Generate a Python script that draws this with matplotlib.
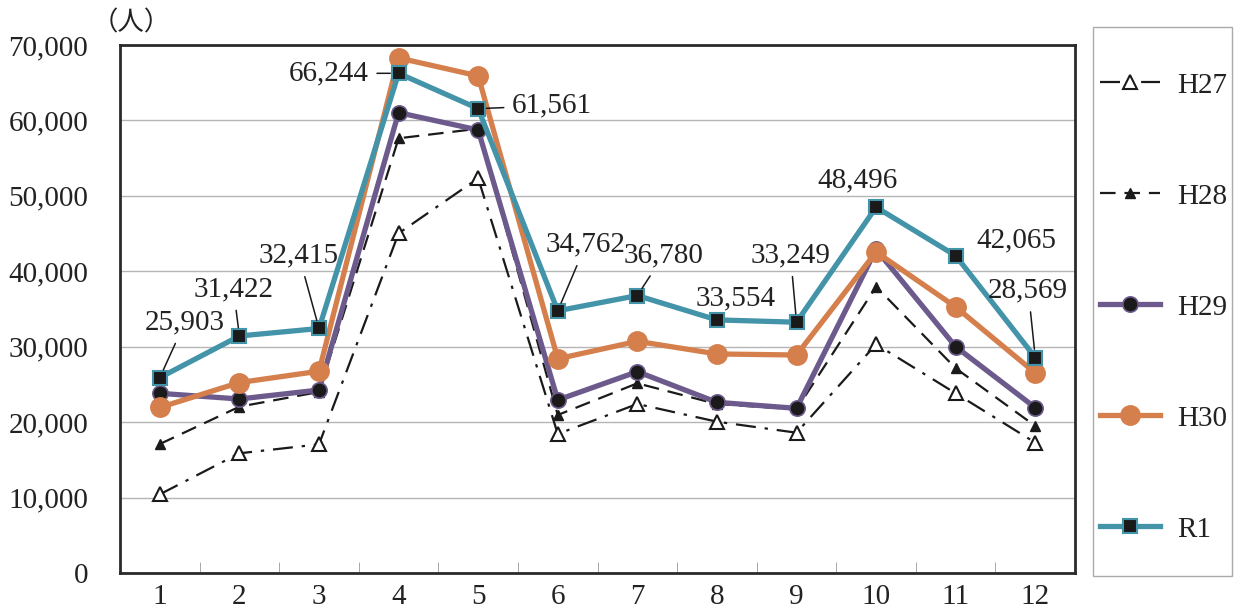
import matplotlib
matplotlib.use('Agg')
import matplotlib.pyplot as plt
from matplotlib.patches import Rectangle
import numpy as np

plt.rcParams['font.family'] = ['Liberation Serif', 'Noto Sans CJK JP']

# 月別データ
months = list(range(1, 13))
h27 = [10430, 15870, 17060, 45030, 52330, 18430, 22410, 20060, 18600, 30320, 23820, 17280]
h28 = [17100, 22050, 24000, 57630, 58900, 20950, 25150, 22400, 21700, 37960, 27140, 19490]
h29 = [23820, 23070, 24260, 61030, 58730, 22940, 26690, 22630, 21830, 42900, 30000, 21920]
h30 = [21950, 25250, 26750, 68280, 65900, 28400, 30720, 29040, 28900, 42560, 35270, 26520]
r1 = [25903, 31422, 32415, 66244, 61561, 34762, 36780, 33554, 33249, 48496, 42065, 28569]
labels = ['H27', 'H28', 'H29', 'H30', 'R1']

teal = '#4393a9'
orange = '#d57f4c'
purple = '#6c5a8c'
fs = 21

fig = plt.figure(figsize=(12.4, 6.12), dpi=100)
ax = fig.add_axes([0.0968, 0.0637, 0.7702, 0.8628])

ax.plot(months, h27, color='#1a1a1a', lw=1.6, dashes=(9, 4, 1.5, 4),
        marker='^', ms=10, mfc='white', mec='#1a1a1a', mew=1.5, label=labels[0], zorder=3)
ax.plot(months, h28, color='#1a1a1a', lw=1.6, dashes=(7, 4),
        marker='^', ms=6.5, mfc='#1a1a1a', mec='#1a1a1a', label=labels[1], zorder=3)
ax.plot(months, h29, color=purple, lw=3.8, marker='o', ms=11,
        mfc='#1a1a1a', mec=purple, mew=1.2, label=labels[2], zorder=4)
ax.plot(months, h30, color=orange, lw=3.8, marker='o', ms=14,
        mfc=orange, mec=orange, label=labels[3], zorder=5)
ax.plot(months, r1, color=teal, lw=3.8, marker='s', ms=10,
        mfc='#1a1a1a', mec=teal, mew=1.5, label=labels[4], zorder=6)

# R1 のデータラベル（位置はピクセルオフセット）
offsets = [(25, 55), (-6, 47), (-20, 73), (-30, 0), (34, 3), (28, 66),
           (26, 40), (19, 22), (-6, 67), (-19, 27), (61, 15), (-7, 67)]
leader = [True, True, True, True, True, True, True, False, True, False, False, True]
for m, v, off, ld in zip(months, r1, offsets, leader):
    ha = 'center'
    if m == 4:
        ha = 'right'
    elif m == 5:
        ha = 'left'
    kw = {}
    if ld:
        kw['arrowprops'] = dict(arrowstyle='-', color='#1a1a1a', lw=1.1,
                                shrinkA=5, shrinkB=6)
    ax.annotate(f'{v:,}', xy=(m, v), xytext=off, textcoords='offset pixels',
                ha=ha, va='center', fontsize=fs, color='#222222',
                bbox=dict(boxstyle='square,pad=0.05', fc='none', ec='none'),
                zorder=7, **kw)

ax.set_xlim(0.5, 12.5)
ax.set_ylim(0, 70000)
ax.set_xticks(months)
ax.set_xticks(np.arange(1.5, 12, 1), minor=True)
ax.set_yticks(range(0, 70001, 10000))
ax.set_yticklabels([f'{v:,}' for v in range(0, 70001, 10000)])
ax.tick_params(axis='x', which='major', length=0, pad=8, labelsize=fs, labelcolor='#222222')
ax.tick_params(axis='x', which='minor', length=8, direction='in', color='#999999')
ax.tick_params(axis='y', length=0, pad=23, labelsize=fs, labelcolor='#222222')
ax.grid(axis='y', color='#b5b5b5', lw=1)
ax.set_axisbelow(True)
for s in ax.spines.values():
    s.set_color('#2a2a2a')
    s.set_linewidth(2)

fig.text(0.106, 0.963, '（人）', fontsize=19, ha='center', va='center', color='#222222')

# 凡例（枠は別に描く）
leg = fig.legend(loc='upper left', bbox_to_anchor=(1100 / 1240, 0.882), fontsize=fs,
                 frameon=False, labelspacing=2.9, handlelength=2.05,
                 handletextpad=0.58, borderpad=0, borderaxespad=0)
for t in leg.get_texts():
    t.set_color('#222222')
fig.patches.append(Rectangle((1093 / 1240, 1 - 576 / 612), 139 / 1240, 549 / 612,
                             transform=fig.transFigure, fill=False,
                             ec='#aaaaaa', lw=1))

fig.savefig('out.png', dpi=100)
